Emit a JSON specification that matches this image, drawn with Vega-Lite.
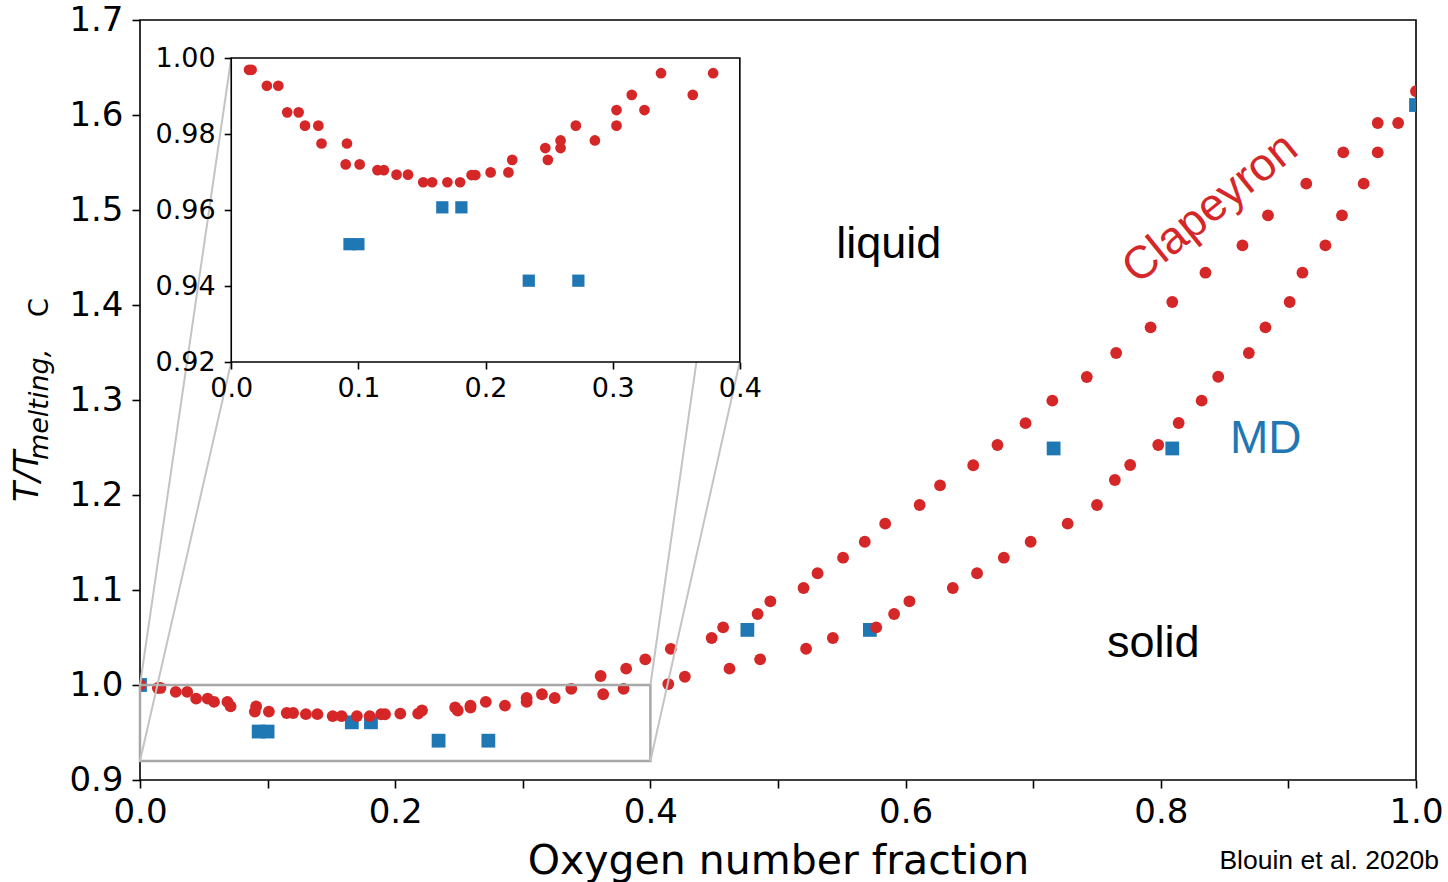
{
  "$schema": "https://vega.github.io/schema/vega-lite/v6.json",
  "width": 1276,
  "height": 760,
  "autosize": "none",
  "padding": {"left": 140, "top": 20, "right": 32, "bottom": 102},
  "background": "white",
  "config": {
    "view": {"stroke": "black", "strokeWidth": 1.6},
    "font": "DejaVu Sans",
    "axis": {"labelFont": "DejaVu Sans", "titleFont": "DejaVu Sans", "labelColor": "black", "titleColor": "black", "tickColor": "black"}
  },
  "datasets": {
    "clapeyron": [
      {"x": 0.0, "y": 1.0},
      {"x": 0.014, "y": 0.9969}, {"x": 0.016, "y": 0.9969},
      {"x": 0.028, "y": 0.9927}, {"x": 0.037, "y": 0.9927},
      {"x": 0.044, "y": 0.9857}, {"x": 0.053, "y": 0.9857},
      {"x": 0.058, "y": 0.9822}, {"x": 0.0685, "y": 0.9822},
      {"x": 0.071, "y": 0.9775}, {"x": 0.091, "y": 0.9775},
      {"x": 0.090, "y": 0.9720}, {"x": 0.101, "y": 0.9720},
      {"x": 0.115, "y": 0.9705}, {"x": 0.120, "y": 0.9705},
      {"x": 0.130, "y": 0.9693}, {"x": 0.139, "y": 0.9693},
      {"x": 0.151, "y": 0.9673}, {"x": 0.158, "y": 0.9673},
      {"x": 0.170, "y": 0.9673}, {"x": 0.180, "y": 0.9673},
      {"x": 0.189, "y": 0.9692}, {"x": 0.192, "y": 0.9692},
      {"x": 0.204, "y": 0.9699}, {"x": 0.218, "y": 0.9699},
      {"x": 0.221, "y": 0.9732},
      {"x": 0.247, "y": 0.9763}, {"x": 0.249, "y": 0.9732},
      {"x": 0.259, "y": 0.9783}, {"x": 0.259, "y": 0.9763},
      {"x": 0.271, "y": 0.9822}, {"x": 0.286, "y": 0.9783},
      {"x": 0.303, "y": 0.9863}, {"x": 0.303, "y": 0.9822},
      {"x": 0.315, "y": 0.9903}, {"x": 0.325, "y": 0.9863},
      {"x": 0.338, "y": 0.9960}, {"x": 0.363, "y": 0.9903}, {"x": 0.379, "y": 0.9960},
      {"x": 0.361, "y": 1.0095}, {"x": 0.381, "y": 1.0172}, {"x": 0.396, "y": 1.027},
      {"x": 0.416, "y": 1.038}, {"x": 0.448, "y": 1.0495}, {"x": 0.457, "y": 1.0607},
      {"x": 0.484, "y": 1.0747}, {"x": 0.494, "y": 1.0881}, {"x": 0.520, "y": 1.1021},
      {"x": 0.531, "y": 1.1176}, {"x": 0.551, "y": 1.134}, {"x": 0.568, "y": 1.1508},
      {"x": 0.584, "y": 1.1698}, {"x": 0.611, "y": 1.1895}, {"x": 0.627, "y": 1.2102},
      {"x": 0.653, "y": 1.2313}, {"x": 0.672, "y": 1.2526}, {"x": 0.694, "y": 1.2756},
      {"x": 0.715, "y": 1.2993}, {"x": 0.742, "y": 1.3242}, {"x": 0.765, "y": 1.3495},
      {"x": 0.792, "y": 1.3765}, {"x": 0.809, "y": 1.4032}, {"x": 0.835, "y": 1.434},
      {"x": 0.864, "y": 1.4628}, {"x": 0.884, "y": 1.4944}, {"x": 0.914, "y": 1.5277},
      {"x": 0.943, "y": 1.5607}, {"x": 0.970, "y": 1.5916}, {"x": 1.0, "y": 1.625},
      {"x": 0.414, "y": 1.001}, {"x": 0.427, "y": 1.0087}, {"x": 0.462, "y": 1.0172},
      {"x": 0.486, "y": 1.027}, {"x": 0.522, "y": 1.0382}, {"x": 0.543, "y": 1.0495},
      {"x": 0.577, "y": 1.0607}, {"x": 0.591, "y": 1.0747}, {"x": 0.603, "y": 1.0881},
      {"x": 0.637, "y": 1.1021}, {"x": 0.656, "y": 1.1176}, {"x": 0.677, "y": 1.134},
      {"x": 0.698, "y": 1.1508}, {"x": 0.727, "y": 1.1698}, {"x": 0.750, "y": 1.1895},
      {"x": 0.764, "y": 1.2158}, {"x": 0.776, "y": 1.2316}, {"x": 0.798, "y": 1.2526},
      {"x": 0.814, "y": 1.2758}, {"x": 0.832, "y": 1.2993}, {"x": 0.845, "y": 1.3245},
      {"x": 0.869, "y": 1.3495}, {"x": 0.882, "y": 1.3765}, {"x": 0.901, "y": 1.4032},
      {"x": 0.911, "y": 1.434}, {"x": 0.929, "y": 1.4628}, {"x": 0.942, "y": 1.4944},
      {"x": 0.959, "y": 1.5277}, {"x": 0.970, "y": 1.5607}, {"x": 0.986, "y": 1.5916}
    ],
    "md": [
      {"x": 0.0, "y": 1.0},
      {"x": 0.093, "y": 0.951}, {"x": 0.100, "y": 0.951},
      {"x": 0.166, "y": 0.9607}, {"x": 0.181, "y": 0.9607},
      {"x": 0.234, "y": 0.9414}, {"x": 0.273, "y": 0.9414},
      {"x": 0.476, "y": 1.058}, {"x": 0.572, "y": 1.058},
      {"x": 0.716, "y": 1.249}, {"x": 0.809, "y": 1.249},
      {"x": 1.0, "y": 1.6105}
    ]
  },
  "layer": [
    {
      "layer": [
        {
          "data": {"name": "md"},
          "mark": {"type": "point", "shape": "square", "filled": true, "size": 190, "color": "#1f77b4", "opacity": 1, "clip": true},
          "encoding": {
            "x": {
              "field": "x", "type": "quantitative",
              "scale": {"domain": [0, 1], "nice": false, "zero": false},
              "axis": {
                "orient": "bottom",
                "values": [0, 0.1, 0.2, 0.3, 0.4, 0.5, 0.6, 0.7, 0.8, 0.9, 1.0],
                "labelExpr": "round(datum.value*10) % 2 == 0 ? format(datum.value, '.1f') : ''",
                "labelFontSize": 34, "labelPadding": 7, "labelFlush": false, "labelOverlap": false,
                "tickSize": 8, "tickWidth": 1.6, "domain": false, "grid": false,
                "title": "Oxygen number fraction", "titleFontSize": 41, "titleFontWeight": "normal",
                "titleBaseline": "alphabetic", "titleY": 93
              }
            },
            "y": {
              "field": "y", "type": "quantitative",
              "scale": {"domain": [0.9, 1.7], "nice": false, "zero": false},
              "axis": {
                "orient": "left",
                "values": [0.9, 1.0, 1.1, 1.2, 1.3, 1.4, 1.5, 1.6, 1.7],
                "format": ".1f",
                "labelFontSize": 34, "labelPadding": 9, "labelFlush": false, "labelOverlap": false,
                "tickSize": 8, "tickWidth": 1.6, "domain": false, "grid": false, "title": null
              }
            }
          }
        },
        {
          "data": {"name": "clapeyron"},
          "mark": {"type": "point", "shape": "circle", "filled": true, "size": 140, "color": "#d62728", "opacity": 1, "clip": true},
          "encoding": {
            "x": {"field": "x", "type": "quantitative", "scale": {"domain": [0, 1], "nice": false, "zero": false}},
            "y": {"field": "y", "type": "quantitative", "scale": {"domain": [0.9, 1.7], "nice": false, "zero": false}}
          }
        },
        {
          "data": {"values": [{"x0": 0, "x1": 0.4, "y0": 0.92, "y1": 1.0}]},
          "mark": {"type": "rect", "fillOpacity": 0, "stroke": "#a8a8a8", "strokeWidth": 2.5},
          "encoding": {
            "x": {"field": "x0", "type": "quantitative", "scale": {"domain": [0, 1], "nice": false, "zero": false}},
            "x2": {"field": "x1"},
            "y": {"field": "y0", "type": "quantitative", "scale": {"domain": [0.9, 1.7], "nice": false, "zero": false}},
            "y2": {"field": "y1"}
          }
        },
        {
          "data": {"values": [
            {"x0": 0, "y0": 0.92, "x1": 0.0715, "y1": 1.34},
            {"x0": 0, "y0": 1.0, "x1": 0.0715, "y1": 1.66},
            {"x0": 0.4, "y0": 0.92, "x1": 0.47, "y1": 1.34},
            {"x0": 0.4, "y0": 1.0, "x1": 0.47, "y1": 1.66}
          ]},
          "mark": {"type": "rule", "stroke": "#c4c4c4", "strokeWidth": 2},
          "encoding": {
            "x": {"field": "x0", "type": "quantitative", "scale": {"domain": [0, 1], "nice": false, "zero": false}},
            "x2": {"field": "x1"},
            "y": {"field": "y0", "type": "quantitative", "scale": {"domain": [0.9, 1.7], "nice": false, "zero": false}},
            "y2": {"field": "y1"}
          }
        },
        {
          "data": {"values": [{"label": "liquid", "x": 0.5868, "y": 1.4492}, {"label": "solid", "x": 0.7941, "y": 1.0298}]},
          "mark": {"type": "text", "font": "Liberation Sans", "fontSize": 45, "color": "black", "align": "center", "baseline": "alphabetic"},
          "encoding": {
            "x": {"field": "x", "type": "quantitative", "scale": {"domain": [0, 1], "nice": false, "zero": false}},
            "y": {"field": "y", "type": "quantitative", "scale": {"domain": [0.9, 1.7], "nice": false, "zero": false}},
            "text": {"field": "label"}
          }
        },
        {
          "data": {"values": [{"label": "MD", "x": 0.8823, "y": 1.2439}]},
          "mark": {"type": "text", "font": "Liberation Sans", "fontSize": 46, "color": "#1f77b4", "align": "center", "baseline": "alphabetic"},
          "encoding": {
            "x": {"field": "x", "type": "quantitative", "scale": {"domain": [0, 1], "nice": false, "zero": false}},
            "y": {"field": "y", "type": "quantitative", "scale": {"domain": [0.9, 1.7], "nice": false, "zero": false}},
            "text": {"field": "label"}
          }
        },
        {
          "data": {"values": [{"label": "Clapeyron", "x": 0.8386, "y": 1.5018}]},
          "mark": {"type": "text", "font": "Liberation Sans", "fontSize": 46, "color": "#d62728", "align": "center", "baseline": "middle", "angle": 321},
          "encoding": {
            "x": {"field": "x", "type": "quantitative", "scale": {"domain": [0, 1], "nice": false, "zero": false}},
            "y": {"field": "y", "type": "quantitative", "scale": {"domain": [0.9, 1.7], "nice": false, "zero": false}},
            "text": {"field": "label"}
          }
        },
        {
          "data": {"values": [{"label": "Blouin et al. 2020b", "x": 1.018, "y": 0.8063}]},
          "mark": {"type": "text", "font": "Liberation Sans", "fontSize": 26.5, "color": "black", "align": "right", "baseline": "alphabetic"},
          "encoding": {
            "x": {"field": "x", "type": "quantitative", "scale": {"domain": [0, 1], "nice": false, "zero": false}},
            "y": {"field": "y", "type": "quantitative", "scale": {"domain": [0.9, 1.7], "nice": false, "zero": false}},
            "text": {"field": "label"}
          }
        },
        {
          "data": {"values": [{"label": "T/T", "x": -0.0799, "y": 1.1926}]},
          "mark": {"type": "text", "font": "DejaVu Sans", "fontStyle": "italic", "fontSize": 33, "color": "black", "align": "left", "baseline": "alphabetic", "angle": 270},
          "encoding": {
            "x": {"field": "x", "type": "quantitative", "scale": {"domain": [0, 1], "nice": false, "zero": false}},
            "y": {"field": "y", "type": "quantitative", "scale": {"domain": [0.9, 1.7], "nice": false, "zero": false}},
            "text": {"field": "label"}
          }
        },
        {
          "data": {"values": [{"label": "melting,", "x": -0.0721, "y": 1.2368}]},
          "mark": {"type": "text", "font": "DejaVu Sans", "fontStyle": "italic", "fontSize": 27, "color": "black", "align": "left", "baseline": "alphabetic", "angle": 270},
          "encoding": {
            "x": {"field": "x", "type": "quantitative", "scale": {"domain": [0, 1], "nice": false, "zero": false}},
            "y": {"field": "y", "type": "quantitative", "scale": {"domain": [0.9, 1.7], "nice": false, "zero": false}},
            "text": {"field": "label"}
          }
        },
        {
          "data": {"values": [{"label": "C", "x": -0.0721, "y": 1.3874}]},
          "mark": {"type": "text", "font": "DejaVu Sans", "fontSize": 27, "color": "black", "align": "left", "baseline": "alphabetic", "angle": 270},
          "encoding": {
            "x": {"field": "x", "type": "quantitative", "scale": {"domain": [0, 1], "nice": false, "zero": false}},
            "y": {"field": "y", "type": "quantitative", "scale": {"domain": [0.9, 1.7], "nice": false, "zero": false}},
            "text": {"field": "label"}
          }
        }
      ]
    },
    {
      "layer": [
        {
          "data": {"values": [{"x0": 0, "x1": 0.4, "y0": 0.92, "y1": 1.0}]},
          "mark": {"type": "rect", "fill": "white", "stroke": "black", "strokeWidth": 1.6},
          "encoding": {
            "x": {
              "field": "x0", "type": "quantitative",
              "scale": {"domain": [-0.07177, 0.9318], "nice": false, "zero": false},
              "axis": {
                "orient": "bottom", "offset": -418, "zindex": 1,
                "values": [0, 0.1, 0.2, 0.3, 0.4], "format": ".1f",
                "labelFontSize": 27, "labelPadding": 6, "labelFlush": false, "labelOverlap": false,
                "tickSize": 7, "tickWidth": 1.6, "domain": false, "grid": false, "title": null
              }
            },
            "x2": {"field": "x1"},
            "y": {
              "field": "y0", "type": "quantitative",
              "scale": {"domain": [0.81, 1.01], "nice": false, "zero": false},
              "axis": {
                "orient": "left", "offset": -91.2, "zindex": 1,
                "values": [0.92, 0.94, 0.96, 0.98, 1.0], "format": ".2f",
                "labelFontSize": 27, "labelPadding": 9, "labelFlush": false, "labelOverlap": false,
                "tickSize": 7, "tickWidth": 1.6, "domain": false, "grid": false, "title": null
              }
            },
            "y2": {"field": "y1"}
          }
        },
        {
          "data": {"name": "md"},
          "transform": [{"filter": "datum.x > 0 && datum.x <= 0.4 && datum.y >= 0.92 && datum.y <= 1.0"}],
          "mark": {"type": "point", "shape": "square", "filled": true, "size": 150, "color": "#1f77b4", "opacity": 1},
          "encoding": {
            "x": {"field": "x", "type": "quantitative", "scale": {"domain": [-0.07177, 0.9318], "nice": false, "zero": false}},
            "y": {"field": "y", "type": "quantitative", "scale": {"domain": [0.81, 1.01], "nice": false, "zero": false}}
          }
        },
        {
          "data": {"name": "clapeyron"},
          "transform": [{"filter": "datum.x > 0 && datum.x <= 0.4 && datum.y >= 0.92 && datum.y <= 1.0"}],
          "mark": {"type": "point", "shape": "circle", "filled": true, "size": 115, "color": "#d62728", "opacity": 1},
          "encoding": {
            "x": {"field": "x", "type": "quantitative", "scale": {"domain": [-0.07177, 0.9318], "nice": false, "zero": false}},
            "y": {"field": "y", "type": "quantitative", "scale": {"domain": [0.81, 1.01], "nice": false, "zero": false}}
          }
        }
      ]
    }
  ],
  "resolve": {
    "scale": {"x": "independent", "y": "independent"},
    "axis": {"x": "independent", "y": "independent"}
  }
}
